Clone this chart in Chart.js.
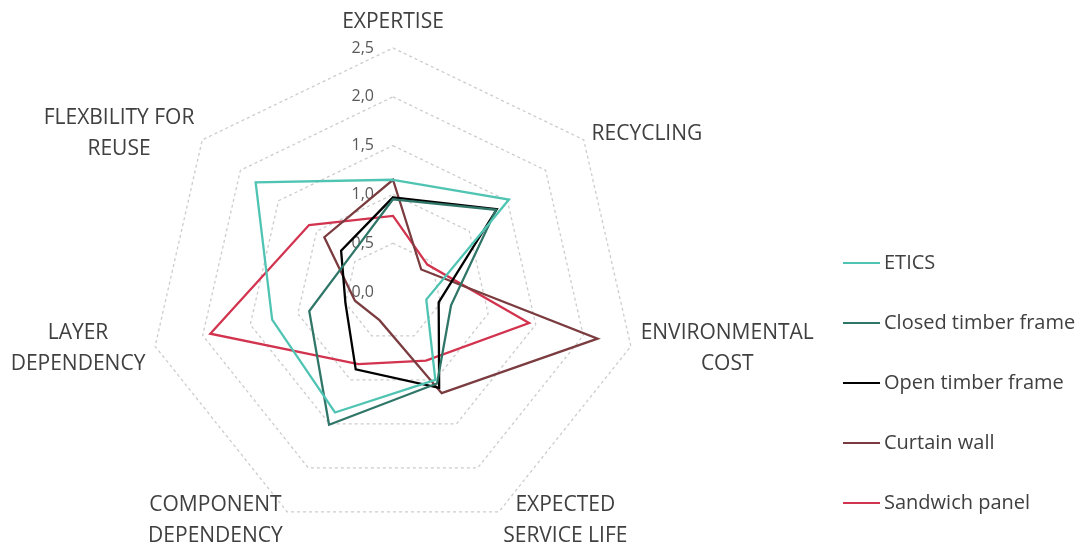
<!DOCTYPE html>
<html>
<head>
<meta charset="utf-8">
<script src="https://cdn.jsdelivr.net/npm/chart.js@4.4.0/dist/chart.umd.min.js"></script>
<style>
  html, body { margin: 0; padding: 0; background: #fff; }
  #wrap { position: relative; width: 1080px; height: 546px; }
</style>
</head>
<body>
<div id="wrap"><canvas id="radarChart" width="1080" height="546"></canvas></div>
<script>
var criteria = [
    'EXPERTISE',
    'RECYCLING',
    ['ENVIRONMENTAL', 'COST'],
    ['EXPECTED', 'SERVICE LIFE'],
    ['COMPONENT', 'DEPENDENCY'],
    ['LAYER', 'DEPENDENCY'],
    ['FLEXBILITY FOR', 'REUSE']
];
var scaleTicks = ['0,0', '0,5', '1,0', '1,5', '2,0', '2,5'];

var etics = [1.15, 1.52, 0.35, 1.00, 1.37, 1.27, 1.80];
var closedTimber = [0.95, 1.35, 0.61, 1.04, 1.51, 0.88, 0.57];
var openTimber = [0.97, 1.36, 0.48, 1.09, 0.88, 0.50, 0.68];
var curtainWall = [1.15, 0.37, 2.15, 1.15, 0.32, 0.40, 0.90];
var sandwichPanel = [0.78, 0.45, 1.43, 0.78, 0.82, 1.92, 1.10];

var textColor = '#404040';
var labelFont = '21px "Open Sans"';
var legendFont = '20px "Open Sans"';

function serie(label, data, color) {
    return {
        label: label,
        data: data,
        borderColor: color,
        backgroundColor: color,
        borderWidth: 2.3,
        pointRadius: 0,
        pointHoverRadius: 0,
        fill: false,
        tension: 0
    };
}

// axis names, scale numbers and the legend are painted here,
// positions come from the radial scale
var excelLabels = {
    id: 'excelLabels',
    beforeDatasetsDraw: function (chart) {
        var scale = chart.scales.r;
        var ctx = chart.ctx;
        ctx.save();
        ctx.font = '16px "Open Sans"';
        ctx.fillStyle = '#595959';
        ctx.textAlign = 'right';
        ctx.textBaseline = 'middle';
        scale.ticks.forEach(function (tick) {
            var d = scale.getDistanceFromCenterForValue(tick.value);
            ctx.fillText(tick.label, scale.xCenter - 19, scale.yCenter - d);
        });
        ctx.restore();
    },
    afterDraw: function (chart) {
        var scale = chart.scales.r;
        var ctx = chart.ctx;
        var lineH = 31;
        ctx.save();
        ctx.font = labelFont;
        ctx.fillStyle = textColor;
        ctx.textAlign = 'center';
        ctx.textBaseline = 'middle';
        criteria.forEach(function (label, i) {
            var lines = [].concat(label);
            var p = scale.getPointPosition(i, scale.drawingArea + 10);
            var w = Math.max.apply(null, lines.map(function (s) { return ctx.measureText(s).width; }));
            var h = lines.length * lineH;
            var cx, top;
            if (Math.abs(p.x - scale.xCenter) < 2) {
                cx = p.x;
                top = p.y - h;
            } else if (p.x > scale.xCenter) {
                cx = p.x + w / 2;
                top = p.y - h / 2;
            } else {
                cx = p.x - w / 2;
                top = p.y - h / 2;
            }
            lines.forEach(function (s, k) {
                ctx.fillText(s, cx, top + lineH * (k + 0.5));
            });
        });

        // legend
        ctx.font = legendFont;
        ctx.textAlign = 'left';
        chart.data.datasets.forEach(function (ds, i) {
            var y = 263 + i * 60;
            ctx.strokeStyle = ds.borderColor;
            ctx.lineWidth = 2;
            ctx.beginPath();
            ctx.moveTo(843, y);
            ctx.lineTo(880, y);
            ctx.stroke();
            ctx.fillText(ds.label, 884, y);
        });
        ctx.restore();
    }
};

var ctx = document.getElementById('radarChart');
var radarChart = new Chart(ctx, {
    type: 'radar',
    data: {
        labels: criteria,
        datasets: [
            serie('ETICS', etics, '#4fc4b3'),
            serie('Closed timber frame', closedTimber, '#2f7668'),
            serie('Open timber frame', openTimber, '#000000'),
            serie('Curtain wall', curtainWall, '#7b3c40'),
            serie('Sandwich panel', sandwichPanel, '#d2334e')
        ]
    },
    options: {
        responsive: false,
        animation: false,
        layout: {
            padding: { left: 149, right: 443, top: 48, bottom: 10 }
        },
        elements: {
            line: { borderJoinStyle: 'miter' }
        },
        plugins: {
            legend: { display: false },
            tooltip: { enabled: false }
        },
        scales: {
            r: {
                min: 0,
                max: 2.5,
                startAngle: 0,
                ticks: {
                    stepSize: 0.5,
                    display: false,
                    callback: function (value, index) {
                        return scaleTicks[index];
                    }
                },
                pointLabels: { display: false },
                angleLines: { display: false },
                grid: {
                    color: '#cccccc',
                    lineWidth: 1.3
                },
                border: {
                    dash: [3, 3]
                }
            }
        }
    },
    plugins: [excelLabels]
});
</script>
</body>
</html>
